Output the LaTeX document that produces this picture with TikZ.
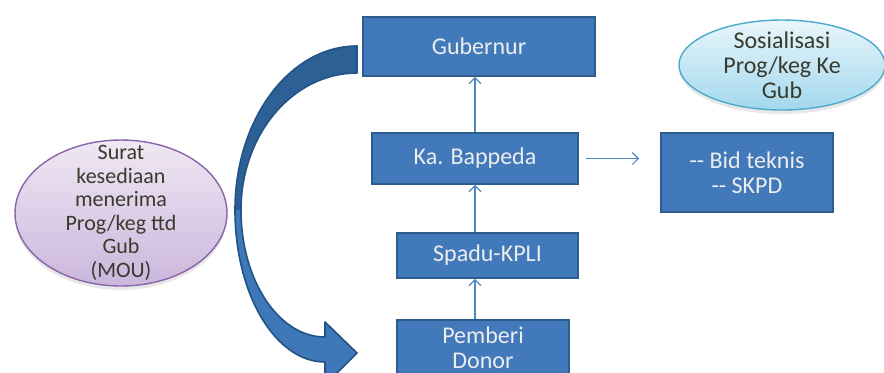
\documentclass[tikz,border=0pt]{standalone}
\usepackage{fontspec}
\setmainfont{Carlito}
\usetikzlibrary{calc, positioning}
\usetikzlibrary{arrows.meta}
\usetikzlibrary{shapes.geometric}
\usetikzlibrary{shadows}

\definecolor{boxblue}{HTML}{4279BA}
\definecolor{boxedge}{HTML}{2D5D8F}
\definecolor{arcdark}{HTML}{2D6195}
\definecolor{arclight}{HTML}{3E78B8}
\definecolor{arcedge}{HTML}{235386}
\definecolor{linkblue}{HTML}{4F85C3}
\definecolor{ovalink}{HTML}{3A3A2C}
\definecolor{lilactop}{HTML}{F0E8F4}
\definecolor{lilacbot}{HTML}{CBB6DC}
\definecolor{lilacedge}{HTML}{8A64A8}
\definecolor{skytop}{HTML}{E8F6FB}
\definecolor{skybot}{HTML}{A3D8EE}
\definecolor{skyedge}{HTML}{4BAACB}

\tikzset{
  stepbox/.style={rectangle, draw=boxedge, line width=0.8pt, fill=boxblue,
    text=white!93!black, font=\fontsize{12}{13}\selectfont, align=center, inner sep=0pt},
  link/.style={draw=linkblue, line width=0.6pt, -{Straight Barb[length=3pt,width=6pt]}},
  oval/.style={ellipse, line width=0.7pt, text=ovalink, align=center,
    drop shadow={opacity=0.18, shadow xshift=0pt, shadow yshift=-2pt}},
}

\begin{document}
\begin{tikzpicture}[x=0.5pt, y=-0.5pt]
\useasboundingbox (0,0) rectangle (884,372);

% curved arrow from Gubernur down to the donor
\fill[arcdark] (357,46) arc[start angle=-90, end angle=-180, x radius=122, y radius=164]
  -- (241,210) arc[start angle=180, end angle=270, x radius=116, y radius=137] -- cycle;
\fill[arclight] (235,210) arc[start angle=180, end angle=90, x radius=90, y radius=152]
  -- (325,385) -- (357,353) -- (325,322) -- (325,337)
  arc[start angle=90, end angle=180, x radius=84, y radius=127] -- cycle;
\draw[arcedge, line width=0.8pt, line join=round]
  (357,46) arc[start angle=-90, end angle=-180, x radius=122, y radius=164]
  arc[start angle=180, end angle=90, x radius=90, y radius=152]
  -- (325,385) -- (357,353) -- (325,322) -- (325,337)
  arc[start angle=90, end angle=180, x radius=84, y radius=127]
  arc[start angle=180, end angle=270, x radius=116, y radius=137] -- cycle;

% boxes
\node[stepbox, minimum width=116pt, minimum height=29.5pt] (gub) at (479,46.5) {Gubernur};
\node[stepbox, minimum width=103pt, minimum height=25.5pt] (bappeda) at (475,158.5) {Ka. Bappeda};
\node[stepbox, minimum width=90.5pt, minimum height=22.5pt] (spadu) at (487.5,255.5) {Spadu-KPLI};
\node[stepbox, minimum width=86pt, minimum height=28pt, font=\fontsize{12}{12.5}\selectfont] (donor) at (483,348) {Pemberi\\Donor};
\node[stepbox, minimum width=86pt, minimum height=39.5pt, font=\fontsize{12}{12.5}\selectfont] (bid) at (747,172.5) {{-}{-} Bid teknis\\{-}{-} SKPD};

% ovals
\node[oval, draw=lilacedge, top color=lilactop, bottom color=lilacbot,
  minimum width=106pt, minimum height=73pt, inner sep=-11pt,
  font=\fontsize{11}{11.75}\selectfont] (surat) at (121,213)
  {Surat\\kesediaan\\menerima\\Prog/keg ttd\\Gub\\(MOU)};
\node[oval, draw=skyedge, top color=skytop, bottom color=skybot,
  minimum width=103pt, minimum height=45pt, inner sep=-4pt,
  font=\fontsize{12}{12.5}\selectfont] (sosial) at (782,65)
  {Sosialisasi\\Prog/keg Ke\\Gub};

% links
\draw[link] (donor.north -| bappeda.south) -- (spadu.south -| bappeda.south);
\draw[link] (spadu.north -| bappeda.south) -- (bappeda.south);
\draw[link] (bappeda.north) -- (gub.south -| bappeda.north);
\draw[link, shorten <=3.5pt, shorten >=10.5pt] (bappeda.east) -- (bid.west |- bappeda.east);
\end{tikzpicture}
\end{document}
